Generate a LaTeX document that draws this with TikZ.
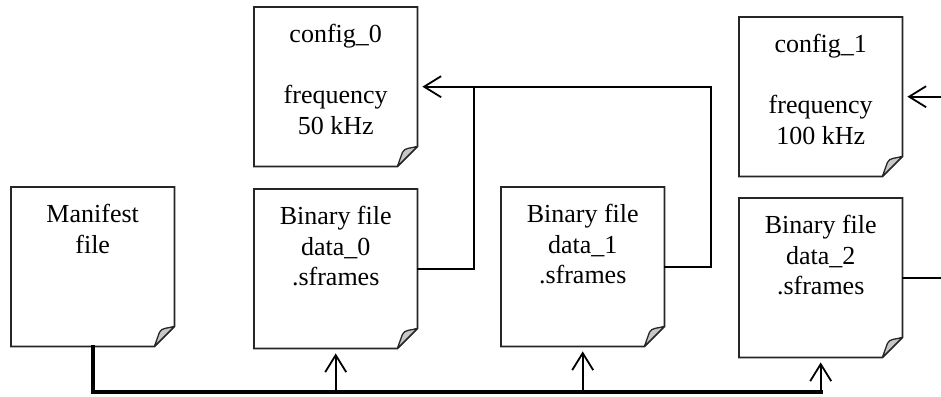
\documentclass[tikz,border=0pt]{standalone}
\usepackage{fontspec}
\setmainfont{Liberation Serif}
\usetikzlibrary{arrows.meta,calc}
\newcommand\docbox[1]{\begin{minipage}[t][159pt][t]{163pt}\centering\vspace*{17pt}#1\end{minipage}}
\tikzset{
  doc/.style={draw=none, inner sep=0pt, anchor=north west, font=\fontsize{26pt}{30.5pt}\selectfont},
  outline/.style={draw=black!85, line width=1.8pt, line join=miter},
  foldfill/.style={draw=black!85, line width=1.3pt, fill=black!22, line join=round},
  thin/.style={draw=black, line width=1.8pt},
  arr/.style={thin, -{Straight Barb[length=17pt,width=21pt,line width=1.8pt]}, shorten >=5pt},
  busline/.style={draw=black, line width=3.8pt, line cap=rect}
}
\begin{document}
\begin{tikzpicture}[x=1pt,y=-1pt]
\useasboundingbox (0,0) rectangle (941,396);
\node[doc] (man) at (11,187) {\docbox{Manifest\\file}};
\node[doc] (c0) at (254,7) {\docbox{config\_0\\[30.5pt]frequency\\50 kHz}};
\node[doc] (d0) at (254,189) {\docbox{Binary file\\data\_0\\.sframes}};
\node[doc] (d1) at (501,187) {\docbox{Binary file\\data\_1\\.sframes}};
\node[doc] (c1) at (739,17) {\docbox{config\_1\\[30.5pt]frequency\\100 kHz}};
\node[doc] (d2) at (739,198) {\docbox{Binary file\\data\_2\\.sframes}};
\foreach \n in {man,c0,d0,d1,c1,d2}{
  \draw[outline] (\n.north west) -- (\n.north east) -- ([yshift=20pt]\n.south east)
     -- ([xshift=-20pt]\n.south east) -- (\n.south west) -- cycle;
  \draw[foldfill] ([xshift=-20pt]\n.south east) -- ([xshift=-15pt,yshift=14pt]\n.south east)
     .. controls ([xshift=-13pt,yshift=19pt]\n.south east) and ([xshift=-6pt,yshift=18pt]\n.south east)
     .. ([yshift=20pt]\n.south east) -- cycle;
}
\coordinate (bus) at (0,392);
\coordinate (j) at (474,0);
\coordinate (tr) at (711,0);
\coordinate (edge) at (941,0);
\draw[busline] (man.south) -- (man.south |- bus) -- (d2.south |- bus);
\draw[arr] (d0.south |- bus) -- (d0.south);
\draw[arr] (d1.south |- bus) -- (d1.south);
\draw[arr] (d2.south |- bus) -- (d2.south);
\draw[thin] (d0.east) -- (d0.east -| j) -- (j |- c0.east);
\draw[arr] (d1.east) -- (d1.east -| tr) -- (tr |- c0.east) -- (c0.east);
\draw[arr] (c1.east -| edge) -- (c1.east);
\draw[thin] (d2.east) -- (d2.east -| edge);
\end{tikzpicture}
\end{document}
